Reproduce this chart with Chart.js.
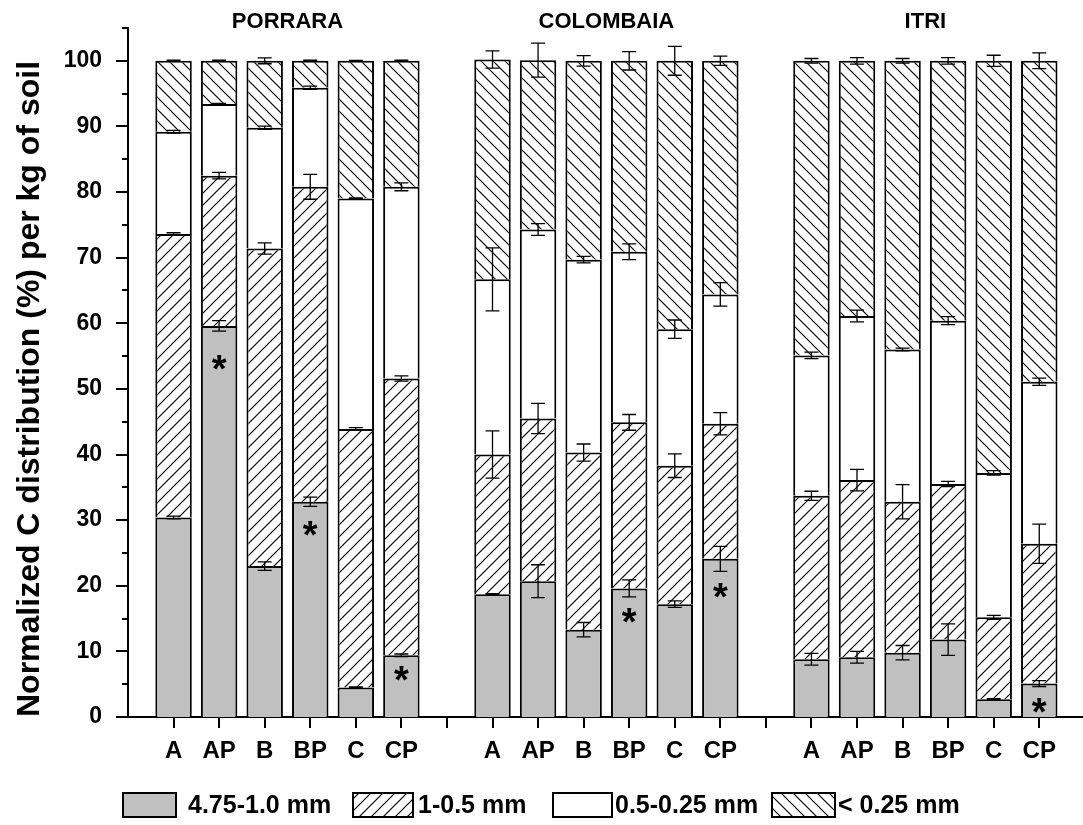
<!DOCTYPE html>
<html><head><meta charset="utf-8">
<script src="https://cdn.jsdelivr.net/npm/chart.js@4.4.1/dist/chart.umd.min.js"></script>
<style>html,body{margin:0;padding:0;background:#fff;overflow:hidden}</style>
</head><body>
<canvas id="c" width="1083" height="825"></canvas>
<script>
// ---------------- DATA ----------------
const sites = ['PORRARA', 'COLOMBAIA', 'ITRI'];
const treatments = ['A', 'AP', 'B', 'BP', 'C', 'CP'];
const seriesNames = ['4.75-1.0 mm', '1-0.5 mm', '0.5-0.25 mm', '< 0.25 mm'];
// segment values (%), bars in order PORRARA A..CP, COLOMBAIA A..CP, ITRI A..CP
const coarse = [30.4, 59.6, 23.0, 32.8, 4.5, 9.4,   18.7, 20.7, 13.3, 19.6, 17.2, 24.1,   8.8, 9.1, 9.8, 11.8, 2.7, 5.1];
const medium = [43.2, 22.9, 48.4, 48.0, 39.4, 42.2, 21.3, 24.8, 27.0, 25.3, 21.1, 20.6,   24.9, 27.0, 23.0, 23.7, 12.5, 21.3];
const fine   = [15.6, 10.9, 18.4, 15.1, 35.1, 29.2, 26.7, 28.8, 29.4, 26.0, 20.8, 19.7,   21.4, 25.0, 23.2, 24.9, 22.0, 24.7];
const finest = [10.8, 6.6, 10.2, 4.1, 21.0, 19.2,   33.5, 25.8, 30.3, 29.1, 40.9, 35.6,   44.9, 38.9, 44.0, 39.6, 62.8, 48.9];
// standard errors at the top of each segment
const coarseErr = [0.2, 0.8, 0.65, 0.7, 0.1, 0.2,   0.1, 2.5, 1.1, 1.3, 0.5, 1.9,   0.9, 0.9, 1.1, 2.4, 0.1, 0.45];
const mediumErr = [0.2, 0.5, 0.85, 1.9, 0.2, 0.4,   3.6, 2.3, 1.3, 1.2, 1.8, 1.7,   0.7, 1.65, 2.6, 0.4, 0.3, 3.0];
const fineErr   = [0.2, 0.1, 0.25, 0.25, 0.1, 0.6,  4.8, 0.9, 0.5, 1.2, 1.4, 1.8,   0.5, 0.9, 0.2, 0.6, 0.35, 0.55];
const finestErr = [0.1, 0.1, 0.45, 0.1, 0.05, 0.1,  1.3, 2.6, 0.8, 1.4, 2.2, 0.7,   0.35, 0.5, 0.35, 0.5, 0.85, 1.2];
// significance asterisks: value position (null = none)
const starAt = [null, 54.1, null, 28.7, null, 6.6,   null, null, null, 15.5, null, 19.3,   null, null, null, null, null, 1.8];
const yMin = 0, yMax = 105, yStep = 5, yLabelStep = 10;
const yTitle = 'Normalized C distribution (%) per kg of soil';

// ---------------- BUILD ----------------
const slot = [];       // x slot of each bar (a blank slot between sites)
const slotLabels = {}; // tick label per slot
sites.forEach((s, si) => treatments.forEach((t, ti) => {
  const p = si * (treatments.length + 1) + ti;
  slot.push(p); slotLabels[p] = t;
}));
const lastSlot = slot[slot.length - 1];
const allSlots = []; for (let i = 0; i <= lastSlot; i++) allSlots.push(i);

const segs = [coarse, medium, fine, finest];
const errs = [coarseErr, mediumErr, fineErr, finestErr];
const canvas = document.getElementById('c');
const ctx = canvas.getContext('2d');
const FONT = '"Liberation Sans", Arial, Helvetica, sans-serif';

function hatch(dir) {
  const s = 12, c = document.createElement('canvas');
  c.width = s; c.height = s;
  const g = c.getContext('2d');
  g.fillStyle = '#fff'; g.fillRect(0, 0, s, s);
  g.strokeStyle = '#000'; g.lineWidth = 1.2; g.beginPath();
  if (dir > 0) {
    g.moveTo(-2, s + 2); g.lineTo(s + 2, -2);
    g.moveTo(-2, 2); g.lineTo(2, -2);
    g.moveTo(s - 2, s + 2); g.lineTo(s + 2, s - 2);
  } else {
    g.moveTo(-2, -2); g.lineTo(s + 2, s + 2);
    g.moveTo(s - 2, -2); g.lineTo(s + 2, 2);
    g.moveTo(-2, s - 2); g.lineTo(2, s + 2);
  }
  g.stroke();
  return ctx.createPattern(c, 'repeat');
}
const fills = ['#c0c0c0', hatch(1), '#ffffff', hatch(-1)];

const decor = {
  id: 'decor',
  afterDatasetsDraw(chart) {
    const c = chart.ctx, xs = chart.scales.x, ys = chart.scales.y;
    c.save();
    // error bars
    c.strokeStyle = '#000'; c.lineWidth = 1.3;
    slot.forEach((p, i) => {
      let cum = 0;
      const x = xs.getPixelForValue(p);
      segs.forEach((sg, k) => {
        cum += sg[i];
        const e = errs[k][i];
        const y1 = ys.getPixelForValue(cum + e), y2 = ys.getPixelForValue(cum - e);
        c.beginPath();
        c.moveTo(x, y1); c.lineTo(x, y2);
        c.moveTo(x - 7, y1); c.lineTo(x + 7, y1);
        c.moveTo(x - 7, y2); c.lineTo(x + 7, y2);
        c.stroke();
      });
    });
    // asterisks
    c.fillStyle = '#000';
    c.font = 'bold 38px ' + FONT;
    c.textAlign = 'center'; c.textBaseline = 'alphabetic';
    const m = c.measureText('*');
    const off = (m.actualBoundingBoxAscent - m.actualBoundingBoxDescent) / 2;
    slot.forEach((p, i) => {
      if (starAt[i] == null) return;
      c.fillText('*', xs.getPixelForValue(p), ys.getPixelForValue(starAt[i]) + off);
    });
    c.restore();
  },
  afterDraw(chart) {
    const c = chart.ctx, xs = chart.scales.x, ys = chart.scales.y, a = chart.chartArea;
    c.save();
    c.strokeStyle = '#000'; c.lineWidth = 2;
    // x tick marks
    allSlots.forEach(v => {
      const x = Math.round(xs.getPixelForValue(v));
      c.beginPath(); c.moveTo(x, a.bottom); c.lineTo(x, a.bottom + 11); c.stroke();
    });
    // y tick marks (major/minor)
    for (let v = yMin; v <= yMax; v += yStep) {
      const y = Math.round(ys.getPixelForValue(v));
      const len = v % yLabelStep === 0 ? 12 : 6;
      c.beginPath(); c.moveTo(a.left, y); c.lineTo(a.left - len, y); c.stroke();
    }
    // site titles
    c.fillStyle = '#000';
    c.font = 'bold 22px ' + FONT;
    c.textAlign = 'center'; c.textBaseline = 'middle';
    sites.forEach((s, si) => {
      const mid = si * (treatments.length + 1) + (treatments.length - 1) / 2;
      c.fillText(s, xs.getPixelForValue(mid), 22);
    });
    // legend
    const boxes = [[123, 176], [353, 413], [553, 612], [772, 835]];
    const tx = [188, 418, 615, 838];
    c.font = 'bold 25px ' + FONT;
    c.textAlign = 'left';
    seriesNames.forEach((n, k) => {
      const [x0, x1] = boxes[k];
      c.fillStyle = fills[k];
      c.fillRect(x0, 793, x1 - x0, 24);
      c.lineWidth = 2; c.strokeStyle = '#000';
      c.strokeRect(x0, 793, x1 - x0, 24);
      c.fillStyle = '#000';
      c.fillText(n, tx[k], 806);
    });
    c.restore();
  }
};

new Chart(ctx, {
  type: 'bar',
  data: {
    datasets: seriesNames.map((name, k) => ({
      label: name,
      data: slot.map((p, i) => ({ x: p, y: segs[k][i] })),
      backgroundColor: fills[k],
      borderColor: '#000',
      borderWidth: { top: 2, left: 2, right: 2, bottom: 0 },
      borderSkipped: false,
      barPercentage: 0.8,
      categoryPercentage: 1.0,
      stack: 's'
    }))
  },
  options: {
    responsive: false,
    animation: false,
    events: [],
    layout: { padding: { top: 28, left: 0, right: 0, bottom: 0 } },
    plugins: { legend: { display: false }, tooltip: { enabled: false } },
    scales: {
      x: {
        type: 'linear', stacked: true, offset: false,
        min: -1, max: lastSlot + 0.96,
        grid: { display: false, drawTicks: false, offset: false },
        border: { display: true, color: '#000', width: 2 },
        afterBuildTicks: s => { s.ticks = allSlots.map(v => ({ value: v })); },
        afterFit: s => { s.height = 108; s.paddingLeft = 0; s.paddingRight = 0; },
        ticks: {
          autoSkip: false, maxRotation: 0, padding: 20, color: '#000',
          font: { family: FONT, size: 24, weight: 'bold' },
          callback: v => slotLabels[v] || ''
        }
      },
      y: {
        stacked: true, min: yMin, max: yMax,
        grid: { display: false, drawTicks: false },
        border: { display: true, color: '#000', width: 2 },
        afterFit: s => { s.width = 128; s.paddingTop = 0; s.paddingBottom = 0; },
        ticks: {
          stepSize: yStep, autoSkip: false, padding: 26, color: '#000',
          font: { family: FONT, size: 23, weight: 'bold' },
          callback: v => (v % yLabelStep === 0 && v <= 100) ? String(v) : ''
        },
        title: {
          display: true, text: yTitle, align: 'start', color: '#000',
          padding: { top: 11, bottom: 0 },
          font: { family: FONT, size: 32, weight: 'bold' }
        }
      }
    }
  },
  plugins: [decor]
});
</script>
</body></html>
